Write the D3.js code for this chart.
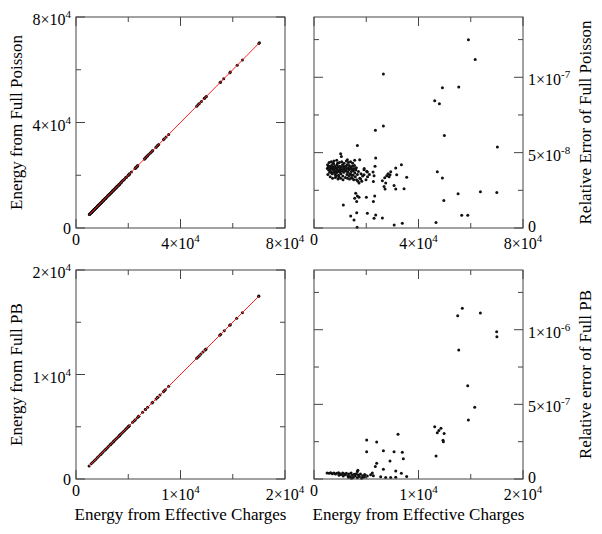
<!DOCTYPE html>
<html>
<head>
<meta charset="utf-8">
<script src="https://d3js.org/d3.v7.min.js"></script>
<style>
  body { margin: 0; background: #fff; }
</style>
</head>
<body>
<div id="chart"></div>
<script>
// ---- data: [energy from effective charges, relative error] ----
// Full Poisson, relative error in units of 1e-8
var poissonPts = [
  [59100,12.49],[61700,11.18],[26550,10.22],[49150,9.31],[55400,9.36],[46200,8.44],[48000,8.24],
  [26550,6.76],[23500,6.49],[49900,6.13],[16600,5.47],[70200,5.38],[47200,3.73],[49150,3.31],
  [55150,2.27],[63700,2.40],[69970,2.36],[49700,1.82],[56550,0.84],[58860,0.84],[46700,0.36],
  [33800,0.32],[30700,0.20],[16500,0.05],
  [10200,4.93],[10470,4.75],[12770,4.53],[15570,4.49],[17490,4.53],[23620,4.64],[23360,4.09],
  [22600,3.71],[20430,3.71],[19150,3.87],[22980,3.47],[22730,3.09],[33450,4.20],[31280,3.98],
  [31660,3.53],[35490,3.36],[30640,2.82],[31280,2.58],[34470,2.60],
  [26170,3.13],[27070,3.33],[27830,3.47],[28340,3.60],[28730,3.40],[27450,2.98],[26810,2.76],
  [27200,2.58],[29100,3.53],[29360,3.73],
  [15960,2.31],[16600,2.13],[15570,1.98],[16340,1.76],[17240,2.04],[20040,2.04],[23230,2.13],
  [22730,1.76],[11230,1.53],[16340,1.02],[20430,0.98],[14040,0.80],[15320,0.53],[23620,0.87],
  [22980,0.64],[26170,0.67],
  [5100,3.95],[5400,4.05],[5600,3.85],[5900,4.10],[6100,3.90],[6300,4.00],[6500,3.75],[6700,4.15],
  [6900,3.95],[7000,3.60],[7200,4.05],[7400,3.85],[7500,4.25],[7700,3.70],[7800,3.95],[8000,4.10],
  [8100,3.55],[8300,3.80],[8500,4.00],[8600,3.65],[8800,4.20],[8900,3.90],[9100,3.75],[9300,4.05],
  [9400,3.50],[9600,3.85],[9800,4.10],[9900,3.70],[10100,3.95],[10300,3.60],[10500,4.05],
  [10700,3.80],[10900,4.20],[11000,3.45],[11200,3.90],[11400,3.70],[11600,4.00],[11800,3.85],
  [12100,4.10],[12300,3.80],[12500,3.95],[12700,4.20],[12900,3.70],[13100,4.00],[13300,3.85],
  [13500,4.15],[13700,3.60],[13900,3.95],[14100,4.05],[14300,3.75],[14500,3.90],[14700,4.10],
  [14900,3.50],[15100,3.80],[15300,3.95],[15600,3.65],[15800,3.40],[16000,3.85],[16300,3.20],
  [16600,3.55],[17000,3.75],[17240,2.98],[17500,3.30],[17870,3.25],[18000,3.60],[18600,3.45],
  [19150,3.53],[19200,3.95],[19900,3.20],[20170,3.76],[20500,3.40],[21200,3.55],
  [5300,3.55],[5800,4.35],[6200,3.40],[6600,4.40],[7100,3.30],[7600,4.45],[8200,3.35],[8700,4.50],
  [9200,3.25],[9700,4.35],[10200,3.30],[10600,4.40],[11100,3.20],[11500,4.30],[12000,3.35],
  [12400,4.45],[12800,3.30],[13200,4.35],[13600,3.25],[14000,4.40],[14400,3.35],[14800,4.30],
  [15200,3.20],[15500,4.15],[6000,3.70],[6800,3.65],[7300,4.30],[8400,3.45],[9000,4.30],
  [9500,3.40],[10400,3.85],[11300,4.10],[12600,3.55],[13400,3.45],[14200,3.55],[14600,3.30],
  [16200,4.00],[16800,3.10],[18300,3.10],[5200,4.20]
];
// Full PB, relative error in units of 1e-7
var pbPts = [
  [14190,11.43],[15920,11.12],[13750,10.94],[17480,9.87],[17500,9.53],[13850,8.64],[14710,6.25],
  [15380,4.80],[14770,3.95],[11550,3.50],[11800,3.10],[11950,3.25],[12150,3.40],[12450,3.05],
  [12350,2.60],[12380,2.50],[11680,1.54],
  [8040,3.00],[5040,2.61],[6000,2.48],[5040,1.83],[6640,1.90],[7660,1.83],[8450,1.79],[8550,1.36],
  [7270,1.21],[6000,1.05],[5870,0.83],[6640,0.65],[7820,0.54],[8360,0.38],[8870,0.16],[7820,0.12],
  [7340,0.10],[6860,0.10],[6380,0.15],[5580,0.40],[5680,0.22],[5420,0.28],[5100,0.20],
  [1250,0.40],[1450,0.38],[1600,0.42],[1750,0.36],[1900,0.40],[2050,0.33],[2200,0.39],[2350,0.42],
  [2500,0.35],[2600,0.30],[2750,0.40],[2900,0.34],[3000,0.28],[3100,0.38],[3250,0.22],[3350,0.33],
  [3450,0.15],[3550,0.40],[3650,0.25],[3750,0.10],[3850,0.31],[3950,0.20],[4050,0.36],[4150,0.08],
  [4250,0.27],[4350,0.16],[4450,0.33],[4550,0.05],[4650,0.22],[4750,0.12],[4850,0.30],[4950,0.18],
  [2400,0.25],[2800,0.20],[3300,0.12],[3600,0.05],[4150,0.50],[4200,0.58]
];
var poissonErrUnit = 1e-8;
var pbErrUnit = 1e-7;

// axis ticks
var poissonEnergyMajor = [0, 4e4, 8e4];
var poissonEnergyMinor = [2e4, 6e4];
var pbEnergyMajor = [0, 1e4, 2e4];
var pbEnergyMinor = [5e3, 1.5e4];
var poissonErrMajor = [0, 5e-8, 1e-7];
var poissonErrMinor = [2.5e-8, 7.5e-8, 1.25e-7];
var pbErrMajor = [0, 5e-7, 1e-6];
var pbErrMinor = [2.5e-7, 7.5e-7, 1.25e-6];

var xTitle = "Energy from Effective Charges";

var width = 602, height = 534;
var svg = d3.select("#chart").append("svg")
  .attr("width", width)
  .attr("height", height)
  .attr("font-family", "'Liberation Serif', Tinos, 'DejaVu Serif', serif");

var L = [76, 285], R = [314, 523], T = [17, 228], B = [270, 479];

var poissonEnergy = poissonPts.map(function(d){ return d[0]; });
var pbEnergy = pbPts.map(function(d){ return d[0]; });

var panels = [
  {xr:L, yr:T, xd:[0,8e4], yd:[0,8e4], xMaj:poissonEnergyMajor, xMin:poissonEnergyMinor,
   yMaj:poissonEnergyMajor, yMin:poissonEnergyMinor, side:"left", title:"Energy from Full Poisson",
   pts: poissonPts.map(function(d){ return [d[0], d[0]*(1 + d[1]*poissonErrUnit)]; }),
   line: d3.extent(poissonEnergy)},
  {xr:R, yr:T, xd:[0,8e4], yd:[0,1.4e-7], xMaj:poissonEnergyMajor, xMin:poissonEnergyMinor,
   yMaj:poissonErrMajor, yMin:poissonErrMinor, side:"right", title:"Relative Error of Full Poisson",
   pts: poissonPts.map(function(d){ return [d[0], d[1]*poissonErrUnit]; })},
  {xr:L, yr:B, xd:[0,2e4], yd:[0,2e4], xMaj:pbEnergyMajor, xMin:pbEnergyMinor,
   yMaj:pbEnergyMajor, yMin:pbEnergyMinor, side:"left", title:"Energy from Full PB", xTitle:xTitle,
   pts: pbPts.map(function(d){ return [d[0], d[0]*(1 + d[1]*pbErrUnit)]; }),
   line: d3.extent(pbEnergy)},
  {xr:R, yr:B, xd:[0,2e4], yd:[0,1.4e-6], xMaj:pbEnergyMajor, xMin:pbEnergyMinor,
   yMaj:pbErrMajor, yMin:pbErrMinor, side:"right", title:"Relative error of Full PB", xTitle:xTitle,
   pts: pbPts.map(function(d){ return [d[0], d[1]*pbErrUnit]; })}
];

// "4×10^4" style label
function sciLabel(t, v) {
  if (v == 0) { t.text("0"); return false; }
  var e = Math.floor(Math.log10(Math.abs(v)) + 1e-9);
  var m = Math.round(v / Math.pow(10, e));
  t.text(m + "\u00d710");
  t.append("tspan").attr("font-size", 11).attr("dy", -7).text(e);
  return true;
}

panels.forEach(function(p) {
  var x = d3.scaleLinear().domain(p.xd).range(p.xr);
  var y = d3.scaleLinear().domain(p.yd).range([p.yr[1], p.yr[0]]);
  var g = svg.append("g");

  // points
  g.selectAll("circle").data(p.pts).enter().append("circle")
    .attr("cx", function(d){ return x(d[0]); })
    .attr("cy", function(d){ return y(d[1]); })
    .attr("r", 1.5)
    .style("fill", "#111");

  // y = x line
  if (p.line) {
    g.append("path")
      .datum(p.line)
      .attr("d", d3.line().x(function(d){ return x(d); }).y(function(d){ return y(d); }))
      .style("stroke", "#ff2020").style("stroke-width", 1).style("fill", "none");
  }

  // frame
  g.append("rect")
    .attr("x", p.xr[0]).attr("y", p.yr[0])
    .attr("width", p.xr[1]-p.xr[0]).attr("height", p.yr[1]-p.yr[0])
    .style("fill", "none").style("stroke", "#444").style("stroke-width", 1);

  // inward ticks on all four sides
  function ticks(vals, len) {
    vals.forEach(function(v) {
      var xv = x(v);
      g.append("line").attr("x1", xv).attr("x2", xv).attr("y1", p.yr[1]).attr("y2", p.yr[1]-len);
      g.append("line").attr("x1", xv).attr("x2", xv).attr("y1", p.yr[0]).attr("y2", p.yr[0]+len);
    });
  }
  function yticks(vals, len) {
    vals.forEach(function(v) {
      var yv = y(v);
      g.append("line").attr("y1", yv).attr("y2", yv).attr("x1", p.xr[0]).attr("x2", p.xr[0]+len);
      g.append("line").attr("y1", yv).attr("y2", yv).attr("x1", p.xr[1]).attr("x2", p.xr[1]-len);
    });
  }
  ticks(p.xMaj, 9); ticks(p.xMin, 5);
  yticks(p.yMaj, 9); yticks(p.yMin, 5);
  g.selectAll("line").style("stroke", "#444").style("stroke-width", 1);

  // x tick labels
  p.xMaj.forEach(function(v) {
    var t = g.append("text").attr("x", x(v)).attr("text-anchor", "middle").attr("font-size", 16);
    var sup = sciLabel(t, v);
    t.attr("y", p.yr[1] + (sup ? 21 : 17));
  });

  // y tick labels
  p.yMaj.forEach(function(v) {
    var t = g.append("text").attr("font-size", 16);
    if (p.side == "left") t.attr("x", p.xr[0] - 5).attr("text-anchor", "end");
    else t.attr("x", p.xr[1] + 5).attr("text-anchor", "start");
    var sup = sciLabel(t, v);
    t.attr("y", y(v) + (sup ? 8 : (p.side == "right" ? 3.5 : 5.5)));
  });

  // y title
  var tx = p.side == "left" ? 21.5 : 591;
  var ty = (p.yr[0] + p.yr[1]) / 2;
  g.append("text")
    .attr("transform", "translate(" + tx + "," + ty + ") rotate(-90)")
    .attr("text-anchor", "middle")
    .attr("font-size", 17)
    .text(p.title);

  // x title
  if (p.xTitle) {
    g.append("text")
      .attr("x", (p.xr[0] + p.xr[1]) / 2)
      .attr("y", 520)
      .attr("text-anchor", "middle")
      .attr("font-size", 17)
      .text(p.xTitle);
  }
});
</script>
</body>
</html>
